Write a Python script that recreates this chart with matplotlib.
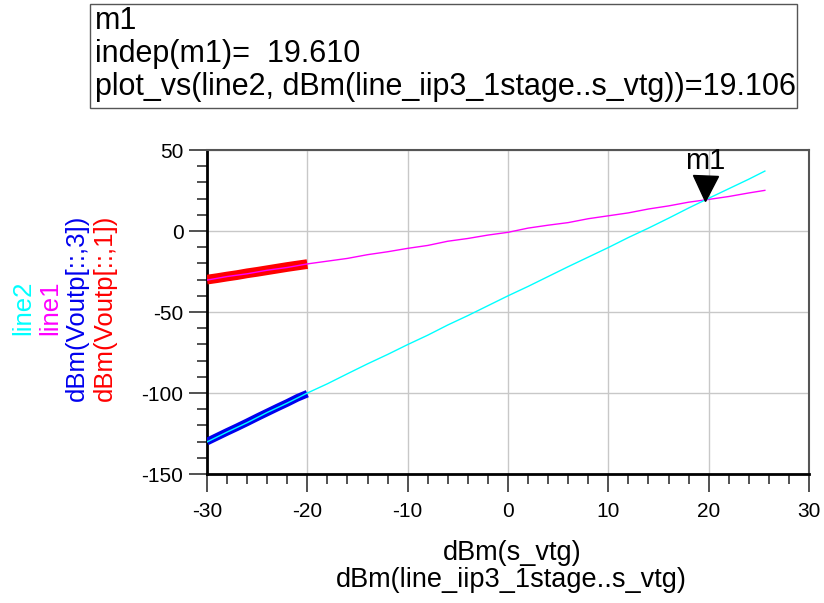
import numpy as np
import matplotlib
matplotlib.use("Agg")
from matplotlib import pyplot as plt
from matplotlib.patches import Rectangle
from matplotlib import transforms

plt.rcParams['font.family'] = ['Liberation Sans', 'DejaVu Sans']
plt.rcParams['axes.unicode_minus'] = False

# fitted lines (thin)
x_line = [-30, -28, -26, -24, -22, -20, -18, -16, -14, -12, -10, -8, -6, -4, -2, 0,
          2, 4, 6, 8, 10, 12, 14, 16, 18, 20, 22, 24, 25.6]
line1 = [-30.3, -28.1, -26.4, -24.2, -22.5, -20.3, -18.6, -16.9, -14.6, -12.8, -10.7,
         -8.9, -6.3, -4.6, -2.5, -0.8, 1.8, 3.6, 5.2, 7.6, 9.4, 11.2, 13.6, 15.5,
         17.8, 19.5, 21.3, 23.5, 25.1]
line2 = [-130.2, -124.1, -118.3, -112.0, -106.2, -100.0, -94.3, -88.1, -82.0, -76.2,
         -70.1, -64.3, -58.0, -52.2, -46.1, -40.0, -34.2, -28.1, -22.0, -16.1, -10.2,
         -4.0, 1.8, 7.9, 14.2, 20.2, 26.1, 32.0, 37.0]

# simulated outputs (thick)
s_vtg = [-30, -29, -28, -27, -26, -25, -24, -23, -22, -21, -20]
vout1 = [-30.0, -29.1, -28.1, -27.2, -26.1, -25.2, -24.2, -23.2, -22.2, -21.3, -20.4]
vout3 = [-130.0, -127.0, -124.0, -121.1, -118.1, -115.0, -112.0, -109.0, -106.1, -103.0, -100.4]

m1_x = 19.610
m1_y = 19.106

fig = plt.figure(figsize=(8.24, 6.03), dpi=100)
ax = fig.add_axes([0.2512, 0.2139, 0.7306, 0.5373])

ax.plot(s_vtg, vout1, color='red', lw=7, solid_capstyle='butt', zorder=3)
ax.plot(s_vtg, vout3, color='#0000ee', lw=5.5, solid_capstyle='butt', zorder=3)
ax.plot(x_line, line1, color='magenta', lw=1, zorder=4)
ax.plot(x_line, line2, color='cyan', lw=1, zorder=4)

# marker m1
tr = transforms.offset_copy(ax.transData, fig=fig, x=0, y=9, units='points')
ax.plot([m1_x], [m1_y], marker='v', markersize=18, color='black', transform=tr,
        zorder=5, clip_on=False)
tr2 = transforms.offset_copy(ax.transData, fig=fig, x=0, y=18, units='points')
ax.text(m1_x, m1_y, 'm1', transform=tr2, ha='center', va='bottom', fontsize=21)

ax.set_xlim(-30, 30)
ax.set_ylim(-150, 50)
ax.set_xticks(np.arange(-30, 31, 10))
ax.set_xticks(np.arange(-30, 31, 2), minor=True)
ax.set_yticks(np.arange(-150, 51, 50))
ax.set_yticks(np.arange(-150, 51, 10), minor=True)
ax.grid(True, which='major', color='#c8c8c8', lw=1)
ax.tick_params(which='major', direction='out', length=13, width=1.2, labelsize=15,
               pad=4, color='#333333')
ax.tick_params(axis='x', which='major', pad=7)
ax.tick_params(which='minor', direction='out', length=7, width=1.2, color='#333333')

for s in ['left', 'bottom']:
    ax.spines[s].set_linewidth(2)
    ax.spines[s].set_color('black')
for s in ['top', 'right']:
    ax.spines[s].set_linewidth(1.5)
    ax.spines[s].set_color('#555555')

# x axis labels
fig.text(0.621, 0.083, 'dBm(s_vtg)', ha='center', va='center', fontsize=19.5)
fig.text(0.621, 0.038, 'dBm(line_iip3_1stage..s_vtg)', ha='center', va='center',
         fontsize=19.5)

# y axis labels
ylabels = ['line2', 'line1', 'dBm(Voutp[::,3])', 'dBm(Voutp[::,1])']
ycolors = ['cyan', 'magenta', '#0000ee', 'red']
xpos = [23, 50, 77, 105]
for lab, c, xp in zip(ylabels, ycolors, xpos):
    fig.text(xp / 824, 1 - 308 / 603, lab, rotation=90, ha='center', va='center',
             color=c, fontsize=18.5)

# marker readout box
fig.patches.append(Rectangle((90 / 824, 1 - 108 / 603), 707 / 824, 104 / 603,
                             transform=fig.transFigure, fill=False,
                             edgecolor='#555555', lw=1))
box_lines = ['m1', 'indep(m1)=  19.610',
             'plot_vs(line2, dBm(line_iip3_1stage..s_vtg))=19.106']
for i, t in enumerate(box_lines):
    fig.text(95 / 824, 1 - (21 + 33 * i) / 603, t, ha='left', va='center', fontsize=22)

plt.savefig('out.png', dpi=100)
